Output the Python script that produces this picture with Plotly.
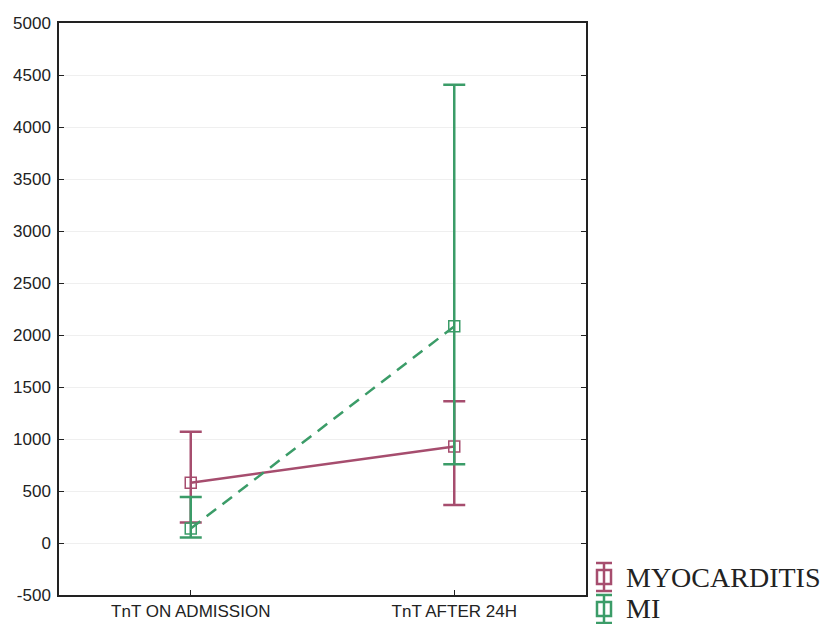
import plotly.graph_objects as go

categories = ["TnT ON ADMISSION", "TnT AFTER 24H"]
myo_mean = [580, 928]
myo_upper = [1070, 1364]
myo_lower = [197, 365]
mi_mean = [139, 2083]
mi_upper = [442, 4406]
mi_lower = [52, 758]
y_ticks = [-500, 0, 500, 1000, 1500, 2000, 2500, 3000, 3500, 4000, 4500, 5000]
y_tick_text = ["-500", "0", "500", "1000", "1500", "2000", "2500", "3000", "3500", "4000", "4500", "5000"]
legend_names = ["MYOCARDITIS", "MI"]

MYO_C = "#a64d6e"
MI_C = "#3b9c68"

# the page body adds an 8px offset; figure coordinates = screen - 8
W, H = 822, 616
L, R, T, B = 51, 244, 15, 29
PW, PH = W - L - R, H - T - B

def px(x):
    return (x - L) / PW

def py(y):
    return (H - B - y) / PH

xs = [0, 1]

def err(mean, up, lo):
    return dict(type="data", symmetric=False,
                array=[u - m for u, m in zip(up, mean)],
                arrayminus=[m - l for m, l in zip(mean, lo)])

fig = go.Figure()
fig.add_trace(go.Scatter(
    x=xs, y=myo_mean, mode="lines+markers", showlegend=False,
    line=dict(color=MYO_C, width=2.5),
    marker=dict(symbol="square-open", size=11, color=MYO_C, line=dict(width=1.5)),
    error_y=dict(**err(myo_mean, myo_upper, myo_lower), color=MYO_C, thickness=2.5, width=11),
))
fig.add_trace(go.Scatter(
    x=xs, y=mi_mean, mode="lines+markers", showlegend=False,
    line=dict(color=MI_C, width=2.5, dash="12px,8px"),
    marker=dict(symbol="square-open", size=11, color=MI_C, line=dict(width=1.5)),
    error_y=dict(**err(mi_mean, mi_upper, mi_lower), color=MI_C, thickness=2.5, width=11),
))

# custom legend (glyph: error bar with open square + label)
shapes = []
annotations = []
for i, (name, c) in enumerate(zip(legend_names, [MYO_C, MI_C])):
    cy = 569 + 32 * i
    cx = 596
    lw = 2.5
    shapes += [
        dict(type="line", xref="paper", yref="paper", x0=px(cx), x1=px(cx), y0=py(cy - 14), y1=py(cy + 14),
             line=dict(color=c, width=lw)),
        dict(type="line", xref="paper", yref="paper", x0=px(cx - 8), x1=px(cx + 8), y0=py(cy - 14), y1=py(cy - 14),
             line=dict(color=c, width=lw)),
        dict(type="line", xref="paper", yref="paper", x0=px(cx - 8), x1=px(cx + 8), y0=py(cy + 14), y1=py(cy + 14),
             line=dict(color=c, width=lw)),
        dict(type="rect", xref="paper", yref="paper", x0=px(cx - 7), x1=px(cx + 7), y0=py(cy - 7), y1=py(cy + 7),
             line=dict(color=c, width=lw)),
    ]
    annotations.append(dict(
        xref="paper", yref="paper", x=px(616), y=py(cy), xanchor="left", yanchor="middle",
        text=name, showarrow=False,
        font=dict(family="Liberation Serif, Times New Roman, serif", size=28, color="#222"),
    ))

fig.update_layout(
    width=W, height=H,
    margin=dict(l=L, r=R, t=T, b=B, autoexpand=False),
    paper_bgcolor="white", plot_bgcolor="white",
    font=dict(family="Liberation Sans, Arial, sans-serif", size=17, color="#222"),
    showlegend=False,
    shapes=shapes, annotations=annotations,
)
fig.update_xaxes(
    range=[-0.5, 1.5], tickvals=xs, ticktext=categories, automargin=False,
    showline=True, linecolor="#222", linewidth=1.5, mirror=True,
    ticks="inside", ticklen=5, tickcolor="#222", showgrid=False, zeroline=False,
)
fig.update_yaxes(
    range=[-500, 5000], tickvals=y_ticks, ticktext=y_tick_text, automargin=False,
    showline=True, linecolor="#222", linewidth=1.5, mirror="ticks",
    ticks="inside", ticklen=5, tickcolor="#222", ticklabelstandoff=3,
    showgrid=True, gridcolor="#efefef", gridwidth=1, zeroline=False,
)
fig.write_html("out.html")
